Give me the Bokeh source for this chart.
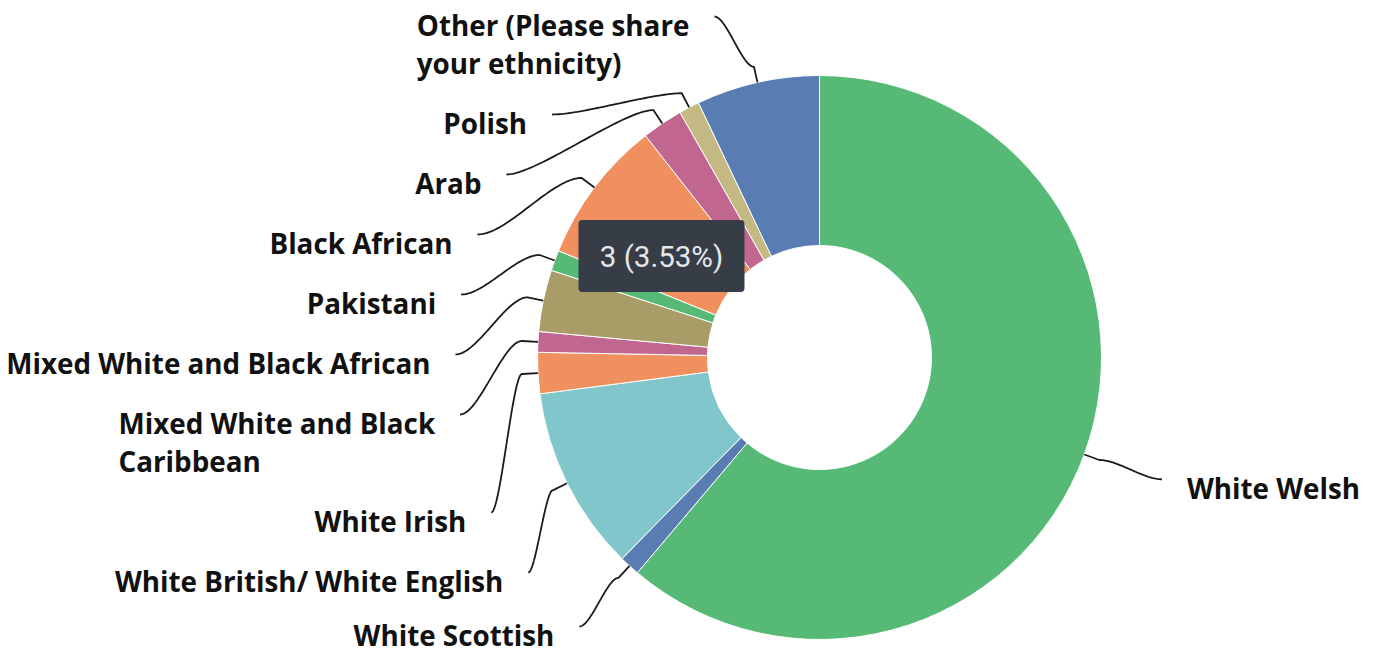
import math
import numpy as np
from bokeh.plotting import figure
from bokeh.models import ColumnDataSource, Range1d, BoxAnnotation, Label
from bokeh.core.properties import value
from bokeh.embed import file_html
from bokeh.resources import INLINE

# ---------------- data (clockwise from 12 o'clock) ----------------
categories = [
    "White Welsh",
    "White Scottish",
    "White British/ White English",
    "White Irish",
    "Mixed White and Black Caribbean",
    "Mixed White and Black African",
    "Pakistani",
    "Black African",
    "Arab",
    "Polish",
    "Other (Please share your ethnicity)",
]
counts = [52, 1, 9, 2, 1, 3, 1, 7, 2, 1, 6]
label_lines = [
    ["White Welsh"],
    ["White Scottish"],
    ["White British/ White English"],
    ["White Irish"],
    ["Mixed White and Black", "Caribbean"],
    ["Mixed White and Black African"],
    ["Pakistani"],
    ["Black African"],
    ["Arab"],
    ["Polish"],
    ["Other (Please share", "your ethnicity)"],
]
colors = ["#56BA76", "#597CB2", "#80C6CA", "#F0905F", "#C1678F", "#A99C66",
          "#56BA76", "#F0905F", "#C1678F", "#C4B983", "#597CB2"]
hovered = "Mixed White and Black African"

# ---------------- layout / style ----------------
W, H = 1376, 654
PAGE = 654                      # screen y -> data y : PAGE - y
CX, CY = 819, 357               # donut centre (screen px)
R_OUT, R_IN = 282, 112
R_CORNER = R_OUT + 16
R_LABEL, LABEL_PAD, TEXT_GAP = 354, 10, 25
FONT = "Open Sans"
FSIZE = 27.8
ASCENT = 1.069 * FSIZE
LINE_H, BLOCK_GAP = 38, 22
FIRST_BASELINE = 35
MAX_BASELINE = 645

def dy(y):
    return PAGE - y

total = sum(counts)
cum = np.concatenate([[0], np.cumsum(counts)])
theta0 = 2 * np.pi * cum[:-1] / total
theta1 = 2 * np.pi * cum[1:] / total
mid = (theta0 + theta1) / 2

p = figure(width=W, height=H, output_backend="svg", toolbar_location=None,
           x_range=Range1d(0, W), y_range=Range1d(PAGE - H, PAGE),
           x_axis_type=None, y_axis_type=None, min_border=0)
p.outline_line_color = None
p.grid.visible = False

wsrc = ColumnDataSource(dict(start=np.pi / 2 - theta0, end=np.pi / 2 - theta1,
                             color=colors, cat=categories))
p.annular_wedge(x=CX, y=dy(CY), inner_radius=R_IN, outer_radius=R_OUT,
                start_angle="start", end_angle="end", direction="clock",
                fill_color="color", line_color="white", line_width=1, source=wsrc)

# ---------------- label placement ----------------
left = [i for i in range(len(counts)) if math.sin(mid[i]) < 0]
right = [i for i in range(len(counts)) if math.sin(mid[i]) >= 0]
left.sort(key=lambda i: -mid[i])

baseline = {}
b = FIRST_BASELINE
for i in left:
    baseline[i] = min(b, MAX_BASELINE)
    b += LINE_H * len(label_lines[i]) + BLOCK_GAP
for i in right:
    baseline[i] = CY - R_LABEL * math.cos(mid[i]) + 19

xs, ys = [], []
labels = {"left": dict(x=[], y=[], text=[]), "right": dict(x=[], y=[], text=[])}
for i in range(len(counts)):
    side = 1 if math.sin(mid[i]) >= 0 else -1
    ey = baseline[i] - 19
    ex = CX + side * (math.sqrt(max(R_LABEL ** 2 - (ey - CY) ** 2, 0)) + LABEL_PAD)
    ex0 = CX + R_OUT * math.sin(mid[i]); ey0 = CY - R_OUT * math.cos(mid[i])
    cx_ = CX + R_CORNER * math.sin(mid[i]); cy_ = CY - R_CORNER * math.cos(mid[i])
    s = 1 if ex > cx_ else -1
    k = min(0.3 * abs(ex - cx_), 30)
    P = np.array([[cx_, cy_], [cx_ + s * k, cy_], [ex - s * k, ey], [ex, ey]])
    t = np.linspace(0, 1, 50)[:, None]
    bz = ((1 - t) ** 3) * P[0] + 3 * ((1 - t) ** 2) * t * P[1] + 3 * (1 - t) * t ** 2 * P[2] + t ** 3 * P[3]
    px = [ex0] + list(bz[:, 0]); py = [ey0] + list(bz[:, 1])
    xs.append(px); ys.append([dy(v) for v in py])
    key = "right" if side > 0 else "left"
    labels[key]["x"].append(ex + side * TEXT_GAP)
    labels[key]["y"].append(dy(baseline[i] - ASCENT))
    labels[key]["text"].append("\n".join(label_lines[i]))

p.multi_line(xs=xs, ys=ys, line_color="#1b1b1b", line_width=1.8)

for key in ("left", "right"):
    if labels[key]["x"]:
        p.text(x="x", y="y", text="text", source=ColumnDataSource(labels[key]),
               anchor=value("top_right" if key == "left" else "top_left"),
               text_align="left", text_baseline="top", text_line_height=1.0,
               text_font=value(FONT), text_font_style="bold",
               text_font_size=f"{FSIZE}px", text_color="#111111")

# ---------------- tooltip ----------------
hi = categories.index(hovered)
tip = f"{counts[hi]} ({counts[hi] / total * 100:.2f}%)"
p.add_layout(BoxAnnotation(left=578, right=744, top=dy(219.5), bottom=dy(291.5),
                           fill_color="#363D47", fill_alpha=1, line_color=None,
                           border_radius=4))
p.add_layout(Label(x=661, y=dy(256.5), text=tip, text_align="center",
                   text_baseline="alphabetic", text_font="Roboto",
                   text_font_size="29.5px", text_color="#E6E8EA"))

open("out.html", "w").write(file_html(p, INLINE))
